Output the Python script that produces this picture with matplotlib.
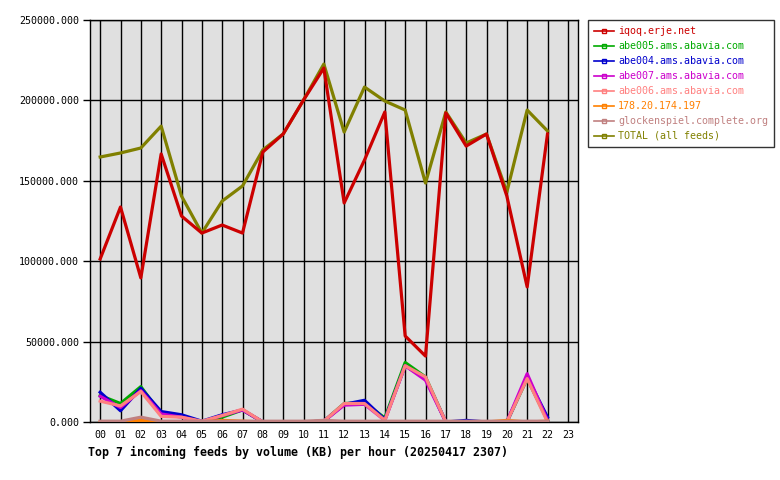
import numpy as np
import matplotlib
matplotlib.use('Agg')
import matplotlib.pyplot as plt
from matplotlib.lines import Line2D

# Datos
horas = ['%02d' % h for h in range(24)]
n = 23  # horas con datos (00..22)

iqoq = [101400, 133700, 89600, 166700, 128100, 117500, 122500, 117500, 167900, 179100,
        200200, 220100, 136200, 162900, 192800, 53500, 41000, 192200, 171600, 179100,
        140500, 84000, 179100]
abe005 = [16500, 11500, 22000, 5000, 3500, 0, 3000, 7500, 0, 0,
          0, 500, 11500, 12000, 2500, 37000, 28000, 0, 0, 0,
          0, 27000, 1000]
abe004 = [18500, 7000, 21000, 6500, 4500, 500, 4500, 7500, 0, 0,
          0, 500, 11000, 13500, 1500, 35000, 27000, 0, 1000, 0,
          0, 28000, 3000]
abe007 = [16000, 9000, 19500, 5000, 3000, 0, 4000, 7500, 0, 0,
          0, 500, 10500, 11000, 1000, 35000, 26000, 0, 0, 0,
          0, 30000, 1000]
abe006 = [13000, 10000, 19000, 3500, 3000, 500, 4000, 8000, 0, 0,
          0, 500, 11500, 11500, 1000, 35000, 28000, 0, 0, 0,
          0, 27000, 0]
ip178 = [0, 0, 1000, 0, 0, 0, 1000, 500, 0, 0,
         0, 0, 0, 0, 0, 0, 0, 0, 0, 0,
         1000, 0, 500]
glock = [500, 500, 3000, 500, 500, 500, 500, 500, 500, 500,
         500, 1000, 500, 500, 500, 500, 500, 500, 500, 500,
         500, 500, 500]
total = [164800, 167300, 170400, 184000, 140500, 117500, 137400, 146800, 169200, 179100,
         200200, 222600, 180300, 208300, 199600, 194000, 148600, 192800, 173500, 179100,
         143000, 194000, 181000]

series = [
    ('iqoq.erje.net', iqoq, '#cc0000'),
    ('abe005.ams.abavia.com', abe005, '#00aa00'),
    ('abe004.ams.abavia.com', abe004, '#0000cc'),
    ('abe007.ams.abavia.com', abe007, '#cc00cc'),
    ('abe006.ams.abavia.com', abe006, '#ff8080'),
    ('178.20.174.197', ip178, '#ff8000'),
    ('glockenspiel.complete.org', glock, '#c08080'),
    ('TOTAL (all feeds)', total, '#808000'),
]

plt.rcParams['font.family'] = 'DejaVu Sans Mono'

fig = plt.figure(figsize=(7.8, 4.8), dpi=100)
ax = fig.add_axes([90 / 780, 1 - 422 / 480, 488 / 780, 402 / 480])
ax.set_facecolor('#e0e0e0')

x = np.arange(n)
# TOTAL debajo, el resto encima
ax.plot(x, total, color='#808000', lw=2.3, zorder=3)
for nombre, vals, col in series[:-1]:
    ax.plot(x, vals, color=col, lw=2.3, zorder=3)

ax.set_xlim(-0.5, 23.5)
ax.set_ylim(0, 250000)
ax.set_xticks(range(24))
ax.set_xticklabels(horas, fontsize=7.2)
ax.set_yticks(np.arange(0, 250001, 50000))
ax.set_yticklabels(['%.3f' % v for v in np.arange(0, 250001, 50000)], fontsize=7.2)
ax.tick_params(axis='x', length=0, pad=6)
ax.tick_params(axis='y', length=5, width=1, direction='out', pad=3)
ax.grid(True, color='black', lw=1, zorder=1)
ax.set_axisbelow(True)
for s in ax.spines.values():
    s.set_linewidth(1)

fig.text(88 / 780, 1 - 452 / 480, 'Top 7 incoming feeds by volume (KB) per hour (20250417 2307)',
         fontsize=8.4, fontweight='bold', va='center', ha='left')

handles = [Line2D([], [], color=c, lw=1.2, marker='s', markersize=3,
                  markerfacecolor='none') for _, _, c in series]
leg = fig.legend(handles, [s[0] for s in series], loc='upper left',
                 bbox_to_anchor=(588 / 780, 1 - 20 / 480), fontsize=7.2,
                 frameon=True, fancybox=False, edgecolor='black', handlelength=2.0,
                 handletextpad=0.4, labelspacing=0.5, borderpad=0.6,
                 borderaxespad=0, numpoints=1)
leg.get_frame().set_linewidth(1)
for t, (_, _, c) in zip(leg.get_texts(), series):
    t.set_color(c)

fig.savefig('out.png', dpi=100)
